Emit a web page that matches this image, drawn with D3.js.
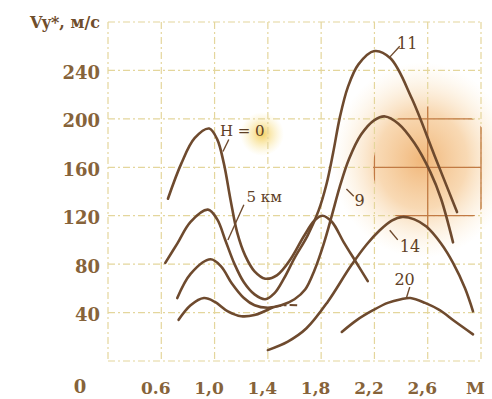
<!DOCTYPE html>
<html>
<head>
<meta charset="utf-8">
<script src="https://cdn.jsdelivr.net/npm/d3@7"></script>
<style>
  body { margin: 0; background: #fff; }
  svg { display: block; }
</style>
</head>
<body>
<div id="chart"></div>
<script>
// tick values and labels
const xTicks = [0.6, 1.0, 1.4, 1.8, 2.2, 2.6, 3.0];
const xTickLabels = ["0.6", "1,0", "1,4", "1,8", "2,2", "2,6", "M"];
const yTicks = [40, 80, 120, 160, 200, 240];

// curves: [M, Vy*]
const curveH0 = [[0.65,134],[0.75,163],[0.85,184],[0.96,192],[1.02,183],[1.07,163],[1.12,133],[1.17,106],[1.23,87],[1.3,74],[1.38,68],[1.47,71],[1.57,84],[1.67,103],[1.75,116],[1.81,120],[1.88,115],[1.97,98],[2.06,82],[2.15,66]];
const curve5 = [[0.63,81],[0.72,97],[0.82,115],[0.95,125],[1.02,117],[1.08,100],[1.15,80],[1.22,65],[1.3,55],[1.38,51],[1.45,56],[1.52,68],[1.6,85],[1.7,104],[1.78,124],[1.84,146],[1.89,172],[1.94,201],[2.0,226],[2.08,245],[2.2,256],[2.32,250],[2.48,217],[2.65,170],[2.82,123]];
const curve9 = [[0.72,52],[0.82,72],[0.97,84],[1.05,78],[1.13,64],[1.22,52],[1.3,46],[1.4,44],[1.5,46],[1.6,51],[1.68,59],[1.75,75],[1.82,97],[1.88,120],[1.94,144],[2.01,167],[2.1,187],[2.2,199],[2.28,202],[2.38,196],[2.5,180],[2.62,156],[2.7,134],[2.79,98]];
const curve11 = [[0.73,34],[0.82,46],[0.92,52],[1.0,49],[1.1,41],[1.2,37],[1.3,38],[1.43,44]];
const curve11dash = [[1.43,44],[1.52,46],[1.62,46]];
const curve14 = [[1.4,9],[1.55,16],[1.69,27],[1.85,49],[2.02,78],[2.14,96],[2.24,108],[2.33,116],[2.41,119],[2.5,117],[2.59,111],[2.7,97],[2.79,81],[2.88,60],[2.94,41]];
const curve20 = [[1.955,24],[2.07,34],[2.19,42],[2.3,48],[2.4,51],[2.47,52],[2.58,48],[2.69,42],[2.8,33],[2.94,22]];

// curve labels: text, anchor point, leader from/to
const labels = [
  {text: "H = 0", at: [1.04,186], from: [1.063,173], to: [1.107,183], size: 15},
  {text: "5 км", at: [1.24,131], from: [1.1,100], to: [1.22,129], size: 15},
  {text: "9", at: [2.05,128], from: [1.99,142], to: [2.045,136], size: 16},
  {text: "11", at: [2.37,258], from: [2.315,251], to: [2.39,260], size: 16},
  {text: "14", at: [2.39,90], from: [2.315,108], to: [2.375,100], size: 16},
  {text: "20", at: [2.35,63], from: [2.44,52], to: [2.465,61], size: 16}
];

const width = 492, height = 399;
const x = d3.scaleLinear().domain([0.2, 3.0]).range([108, 481]);
const y = d3.scaleLinear().domain([0, 280]).range([361, 22]);

const svg = d3.select("#chart").append("svg")
  .attr("width", width)
  .attr("height", height);

const defs = svg.append("defs");
const stain = defs.append("radialGradient").attr("id", "stain");
stain.append("stop").attr("offset", "0%").attr("stop-color", "#eeaa62").attr("stop-opacity", 0.85);
stain.append("stop").attr("offset", "50%").attr("stop-color", "#f4c082").attr("stop-opacity", 0.6);
stain.append("stop").attr("offset", "100%").attr("stop-color", "#fbe6c0").attr("stop-opacity", 0);
const glow = defs.append("radialGradient").attr("id", "glow");
glow.append("stop").attr("offset", "0%").attr("stop-color", "#f2c744").attr("stop-opacity", 0.85);
glow.append("stop").attr("offset", "100%").attr("stop-color", "#fae79a").attr("stop-opacity", 0);
defs.append("clipPath").attr("id", "stainclip")
  .append("ellipse").attr("cx", 435).attr("cy", 168).attr("rx", 62).attr("ry", 62);

// paper stains
svg.append("ellipse").attr("cx", 422).attr("cy", 160).attr("rx", 90).attr("ry", 98).attr("fill", "url(#stain)");
svg.append("circle").attr("cx", 262).attr("cy", 134).attr("r", 22).attr("fill", "url(#glow)");

// grid
const gridColor = "#e4d69c";
function drawGrid(g, color, width, dash) {
  g.selectAll("line.h")
    .data([0, ...yTicks, 280])
    .join("line")
    .attr("class", "h")
    .attr("x1", x(0.2)).attr("x2", x(3.0))
    .attr("y1", d => y(d)).attr("y2", d => y(d))
    .attr("stroke", color).attr("stroke-width", width)
    .attr("stroke-dasharray", dash);
  g.selectAll("line.v")
    .data([0.2, ...xTicks])
    .join("line")
    .attr("class", "v")
    .attr("x1", d => x(d)).attr("x2", d => x(d))
    .attr("y1", y(280)).attr("y2", y(0))
    .attr("stroke", color).attr("stroke-width", width)
    .attr("stroke-dasharray", dash);
}
drawGrid(svg.append("g"), gridColor, 1.2, "7,3,2,3");
drawGrid(svg.append("g").attr("clip-path", "url(#stainclip)"), "#c27a44", 1.3, null);

// axes labels
const tickColor = "#86633a";
const xAxis = svg.append("g")
  .attr("transform", `translate(0,${y(0)})`)
  .call(d3.axisBottom(x).tickValues(xTicks).tickFormat((d, i) => xTickLabels[i]).tickSize(0).tickPadding(21));
xAxis.select(".domain").remove();
xAxis.selectAll("text")
  .attr("dx", -6)
  .attr("fill", tickColor)
  .attr("font-family", "DejaVu Serif")
  .attr("font-weight", "bold")
  .attr("font-size", 17);

const yAxis = svg.append("g")
  .attr("transform", `translate(${x(0.2)},0)`)
  .call(d3.axisLeft(y).tickValues(yTicks).tickSize(0).tickPadding(8));
yAxis.select(".domain").remove();
yAxis.selectAll("text")
  .attr("dy", "0.45em")
  .attr("fill", tickColor)
  .attr("font-family", "DejaVu Serif")
  .attr("font-weight", "bold")
  .attr("font-size", 18);

svg.append("text")
  .attr("x", 80).attr("y", 393)
  .attr("text-anchor", "middle")
  .attr("fill", tickColor)
  .attr("font-family", "DejaVu Serif")
  .attr("font-weight", "bold")
  .attr("font-size", 18)
  .text("0");

const title = svg.append("text")
  .attr("x", 100).attr("y", 28)
  .attr("text-anchor", "end")
  .attr("fill", "#6f4d2c")
  .attr("font-family", "DejaVu Serif")
  .attr("font-weight", "bold")
  .attr("font-size", 16);
title.append("tspan").text("V");
title.append("tspan").text("y*, м/с");

// curves
const line = d3.line()
  .x(d => x(d[0]))
  .y(d => y(d[1]))
  .curve(d3.curveCatmullRom.alpha(0.5));
const curveColor = "#6e4a2e";
svg.selectAll("path.curve")
  .data([curveH0, curve5, curve9, curve11, curve14, curve20])
  .join("path")
  .attr("class", "curve")
  .attr("d", line)
  .attr("fill", "none")
  .attr("stroke", curveColor)
  .attr("stroke-width", 2.6)
  .attr("stroke-linecap", "round");
svg.append("path")
  .attr("d", line(curve11dash))
  .attr("fill", "none")
  .attr("stroke", curveColor)
  .attr("stroke-width", 2)
  .attr("stroke-dasharray", "9,3,3,3");

// curve labels with leaders
svg.selectAll("line.leader")
  .data(labels)
  .join("line")
  .attr("class", "leader")
  .attr("x1", d => x(d.from[0])).attr("y1", d => y(d.from[1]))
  .attr("x2", d => x(d.to[0])).attr("y2", d => y(d.to[1]))
  .attr("stroke", curveColor)
  .attr("stroke-width", 1.4);
svg.selectAll("text.lbl")
  .data(labels)
  .join("text")
  .attr("class", "lbl")
  .attr("x", d => x(d.at[0])).attr("y", d => y(d.at[1]))
  .attr("fill", "#5e4026")
  .attr("font-family", "DejaVu Serif")
  .attr("font-size", d => d.size)
  .text(d => d.text);
</script>
</body>
</html>
